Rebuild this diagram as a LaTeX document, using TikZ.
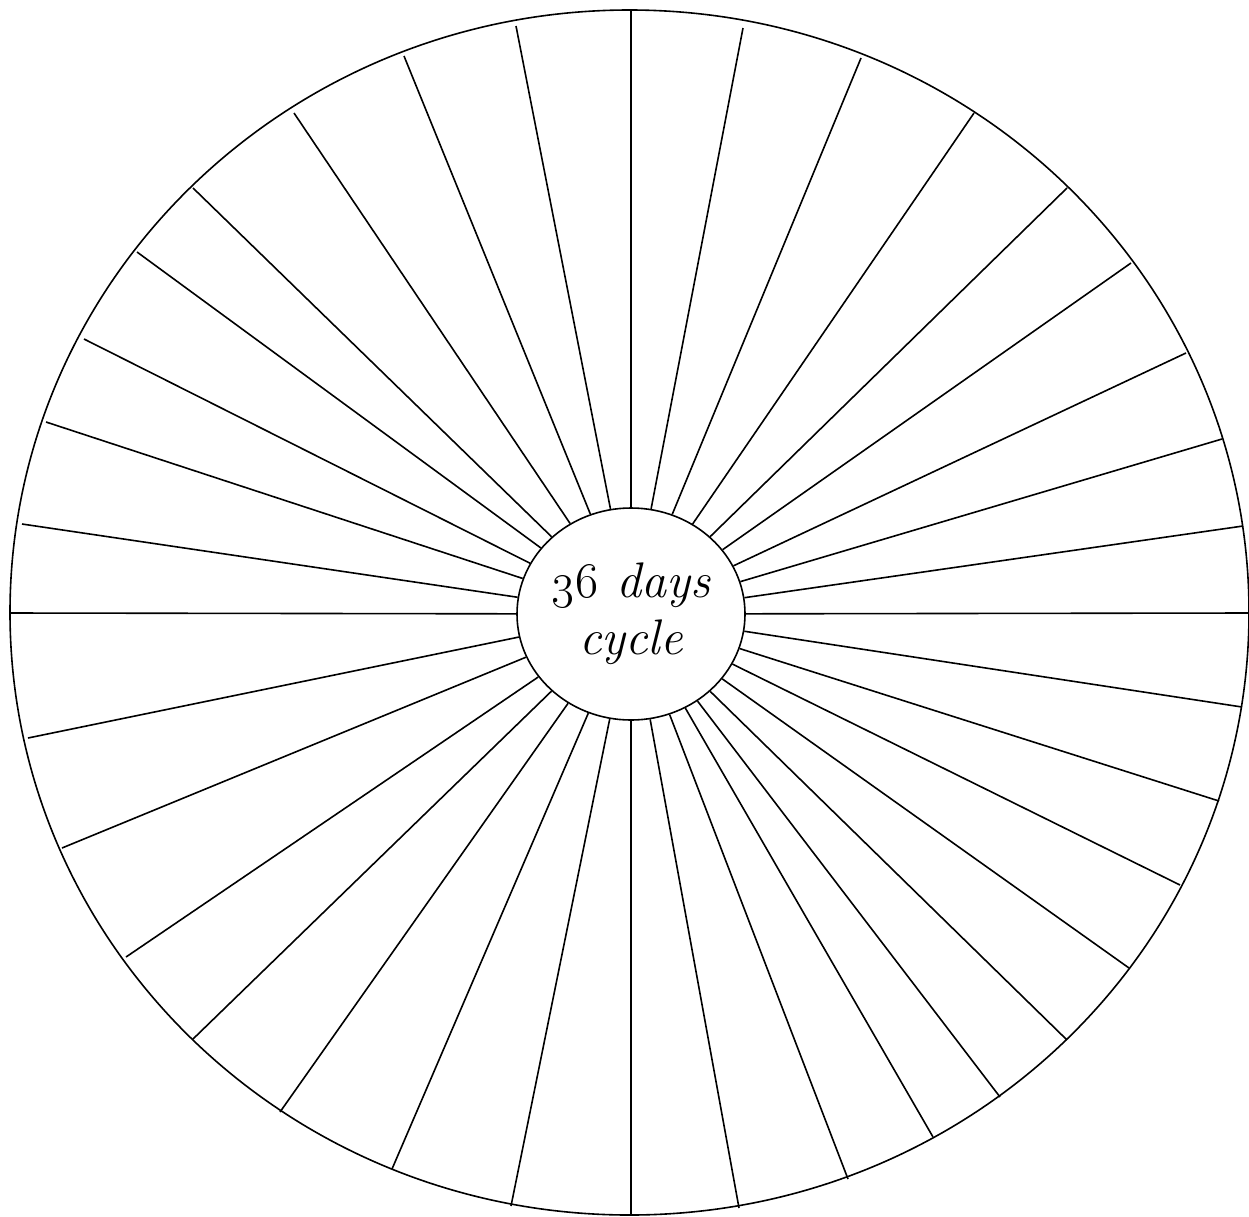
\RequirePackage{fix-cm}
\documentclass[tikz,border=0pt]{standalone}
\usepackage{tikz}
\usetikzlibrary{shapes.geometric}

\begin{document}
\begin{tikzpicture}[x=1pt, y=-1pt, line width=1.6pt]
  \useasboundingbox (0,0) rectangle (1249,1216);

  % outer rim
  \draw (629.5,612.5) ellipse [x radius=619.5, y radius=602.5];

  % hub with the label
  \node[draw, ellipse, minimum width=228pt, minimum height=212pt, inner sep=0pt,
    align=center, font=\fontsize{50}{57}\selectfont\itshape]
  (hub) at (631,614) {\oldstylenums{36} days\\cycle};

  % spokes, from the hub out to the rim
  \foreach \ex/\ey in {10/613, 22/524, 46/422, 84/339, 137/252, 193/188,
      294/113, 404/56, 516/26, 631/10, 743/28, 861/58, 974/113, 1067/188,
      1131/263, 1186/353, 1222/439, 1243/526, 1248/613, 1242/707, 1219/801,
      1180/885, 1129/968, 1067/1040, 1000/1097, 933/1137, 848/1179, 739/1208,
      631/1215, 511/1206, 392/1169, 280/1112, 193/1039, 126/957, 62/848, 28/738}
    \draw (hub) -- (\ex,\ey);
\end{tikzpicture}
\end{document}
